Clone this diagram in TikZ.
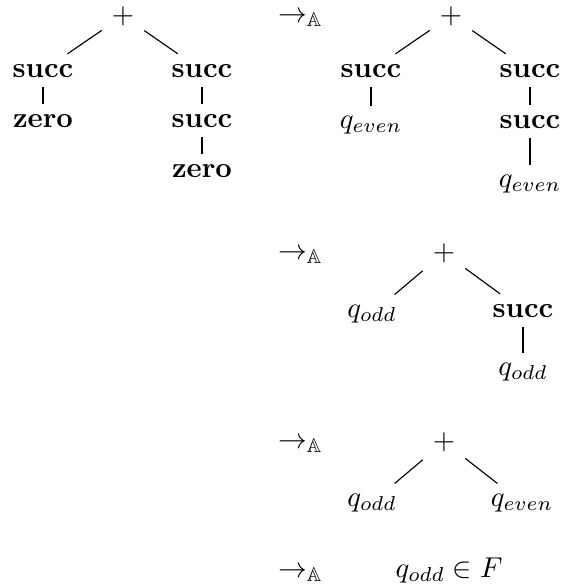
\documentclass[tikz,border=0pt]{standalone}
\usepackage{amssymb}

\begin{document}
\begin{tikzpicture}[x=0.3484pt,y=-0.3484pt,
  nd/.style={anchor=base},
  step label/.style={anchor=base west}]
%
\useasboundingbox (0,0) rectangle (561,587);
%
\def\xarr{268}
%
% first term
\node[nd] (plusA) at (123,23) {$+$};
\node[nd] (succA) at (43,77) {\textbf{succ}};
\node[nd] (zeroA) at (43,127) {\textbf{zero}};
\node[nd] (succB) at (202,77) {\textbf{succ}};
\node[nd] (succC) at (202,127) {\textbf{succ}};
\node[nd] (zeroB) at (202,177) {\textbf{zero}};
\draw (plusA)--(succA);
\draw (plusA)--(succB);
\draw (succA)--(zeroA);
\draw (succB)--(succC);
\draw (succC)--(zeroB);
%
% step 1
\node[step label] (arrA) at (\xarr,22) {$\to_{\mathbb{A}}$};
\node[nd] (plusB) at (451,23) {$+$};
\node[nd] (succD) at (371,77) {\textbf{succ}};
\node[nd] (evenA) at (371,128) {$q_{even}$};
\node[nd] (succE) at (530,77) {\textbf{succ}};
\node[nd] (succF) at (530,128) {\textbf{succ}};
\node[nd] (evenB) at (530,187) {$q_{even}$};
\draw (plusB)--(succD);
\draw (plusB)--(succE);
\draw (succD)--(evenA);
\draw (succE)--(succF);
\draw (succF)--(evenB);
%
% step 2
\node[step label] (arrB) at (\xarr,259) {$\to_{\mathbb{A}}$};
\node[nd] (plusC) at (444,260) {$+$};
\node[nd] (oddA) at (372,317) {$q_{odd}$};
\node[nd] (succG) at (523,317) {\textbf{succ}};
\node[nd] (oddB) at (523,375) {$q_{odd}$};
\draw (plusC)--(oddA);
\draw (plusC)--(succG);
\draw (succG)--(oddB);
%
% step 3
\node[step label] (arrC) at (\xarr,448) {$\to_{\mathbb{A}}$};
\node[nd] (plusD) at (444,449) {$+$};
\node[nd] (oddC) at (372,506) {$q_{odd}$};
\node[nd] (evenC) at (522,506) {$q_{even}$};
\draw (plusD)--(oddC);
\draw (plusD)--(evenC);
%
% accepted
\node[step label] (arrD) at (\xarr,577) {$\to_{\mathbb{A}}$};
\node[nd] (final) at (449,577) {$q_{odd}\in F$};
%
\end{tikzpicture}
\end{document}
